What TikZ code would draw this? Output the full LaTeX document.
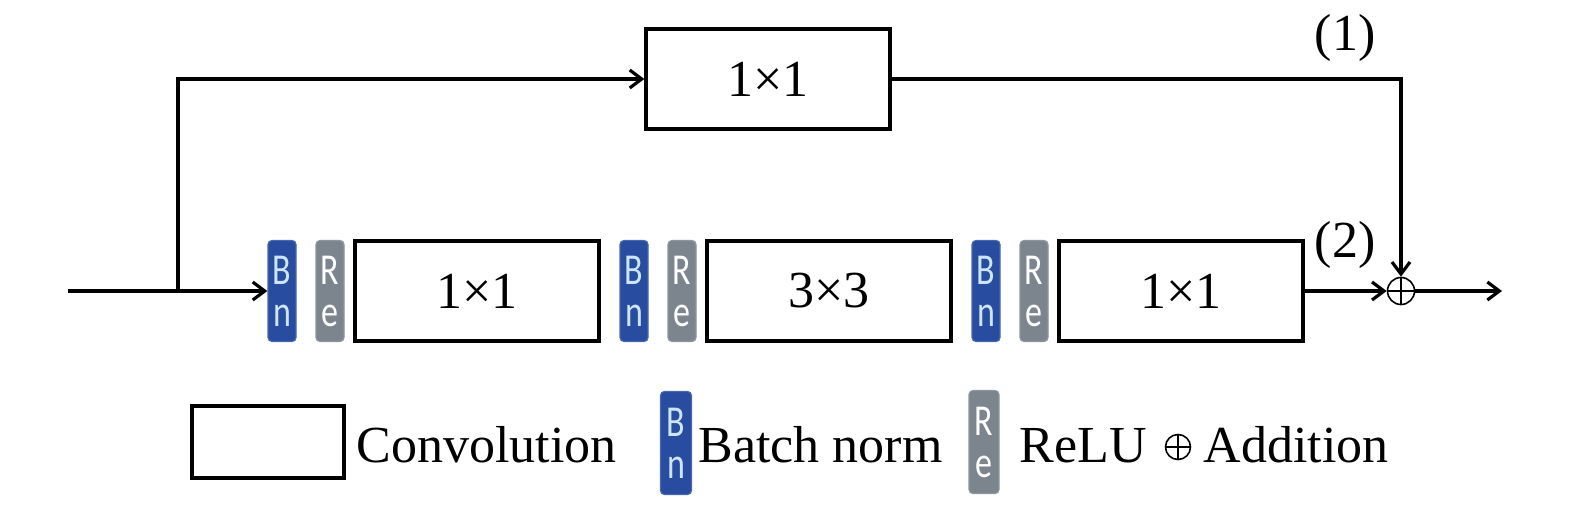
\documentclass[tikz,border=0pt]{standalone}
\usepackage{fontspec}
\setmainfont{Liberation Serif}
\newfontfamily\carlito{Carlito}
\usetikzlibrary{arrows.meta}
\definecolor{bnblue}{RGB}{40,76,160}
\definecolor{regray}{RGB}{124,132,142}
\definecolor{bnletter}{RGB}{205,228,250}
\newcommand{\tallchar}[1]{\scalebox{1}[1.3]{#1}}
\newcommand{\twochar}[2]{\tallchar{#1}\\\tallchar{#2}}
\tikzset{
	conv/.style={draw, line width=1.6pt, minimum width=122pt, minimum height=50pt, inner sep=0pt, font=\fontsize{26}{30}\selectfont},
	bnbox/.style={rounded corners=2pt, fill=bnblue, draw=bnblue!85!white, line width=0.6pt, minimum width=14pt, minimum height=50.5pt, inner sep=0pt, align=center, text=bnletter, font=\carlito\fontsize{17}{21}\selectfont},
	rebox/.style={bnbox, fill=regray, draw=regray!85!white, text=white},
	addnode/.style={circle, draw, line width=0.8pt, minimum size=13.5pt, inner sep=0pt,
		path picture={\draw[line width=0.8pt] (path picture bounding box.north) -- (path picture bounding box.south)
			(path picture bounding box.west) -- (path picture bounding box.east);}},
	lgtext/.style={anchor=base west, inner sep=0pt, font=\fontsize{26}{30}\selectfont},
	numlabel/.style={font=\fontsize{26}{30}\selectfont}
}
\begin{document}
\begin{tikzpicture}[x=0.5pt,y=-0.5pt,line width=1.6pt,>={Straight Barb[length=6pt,width=9pt]}]
\useasboundingbox (0,0) rectangle (1575,504);
% bottom path: Bn, ReLU, conv
\foreach \i/\x/\t in {1/268/1×1, 2/620/3×3, 3/972/1×1} {
	\node[bnbox] (bn\i) at (\x+14,291) {\twochar{B}{n}};
	\node[rebox] (re\i) at (\x+62,291) {\twochar{R}{e}};
	\node[conv] (cv\i) at (\x+209,291) {\t};
}
% top path
\node[conv] (top) at (768,79) {1×1};
\node[addnode] (add) at (1401,291) {};
\coordinate (in) at (68,291);
\coordinate (split) at (178,291);
\coordinate (out) at (1502,291);
\draw (in) -- (split);
\draw[->] (split) -- (bn1);
\draw[->] (split) |- (top);
\draw[->] (top) -| (add);
\draw[->] (cv3) -- (add);
\draw[->] (add) -- (out);
\node[numlabel] (lab1) at (1345,38) {(1)};
\node[numlabel] (lab2) at (1345,245) {(2)};
% legend
\node[conv, minimum width=76pt, minimum height=36pt] (lgconv) at (268,442) {};
\node[lgtext] (lgconvtxt) at (355,462) {Convolution};
\node[bnbox, minimum width=15.5pt, minimum height=51.5pt] (lgbn) at (676,443) {\twochar{B}{n}};
\node[lgtext] (lgbntxt) at (697,462) {Batch norm};
\node[rebox, minimum width=15pt, minimum height=51.5pt] (lgre) at (984,442) {\twochar{R}{e}};
\node[lgtext] (lgretxt) at (1018,462) {ReLU};
\node[addnode, minimum size=12.5pt] (lgadd) at (1178,447) {};
\node[lgtext] (lgaddtxt) at (1202,462) {Addition};
\end{tikzpicture}
\end{document}
